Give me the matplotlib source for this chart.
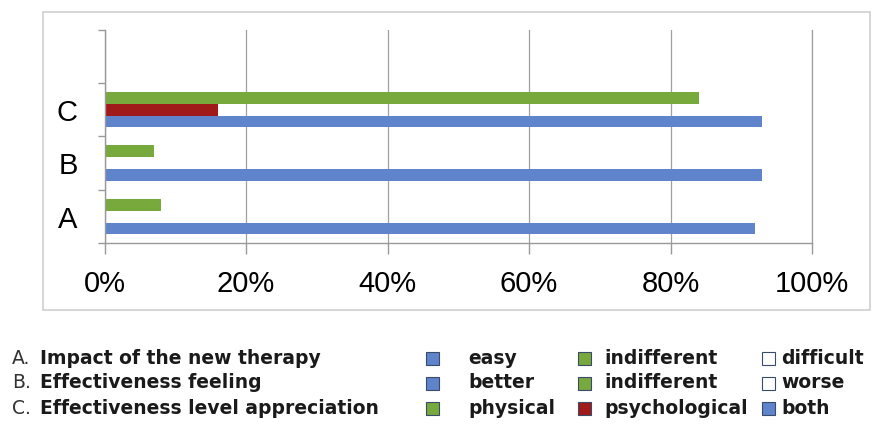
import matplotlib.pyplot as plt
from matplotlib.patches import Rectangle

plt.rcParams['font.family'] = ['Liberation Sans', 'DejaVu Sans']

categories = ['A', 'B', 'C']
# three bar positions per category (bottom, middle, top)
bottom_vals = [92, 93, 93]
middle_vals = [0, 0, 16]
top_vals = [8, 7, 84]
x_ticks = [0, 20, 40, 60, 80, 100]
x_labels = ['0%', '20%', '40%', '60%', '80%', '100%']

blue = '#5f84cc'
green = '#78a93c'
red = '#a11a1a'
bottom_colors = [blue, blue, blue]
middle_colors = ['white', 'white', red]
top_colors = [green, green, green]

desc = ['Impact of the new therapy', 'Effectiveness feeling',
        'Effectiveness level appreciation']
legend_rows = [
    [('easy', blue), ('indifferent', green), ('difficult', 'white')],
    [('better', blue), ('indifferent', green), ('worse', 'white')],
    [('physical', green), ('psychological', red), ('both', blue)],
]

fig = plt.figure(figsize=(8.83, 4.24), dpi=100)

# outer frame
fig.patches.append(Rectangle((43 / 883, 1 - 310 / 424), 827 / 883, 298 / 424,
                             transform=fig.transFigure, fill=False,
                             edgecolor='#cfcfcf', linewidth=1.2))

ax = fig.add_axes([104.6 / 883, 1 - 243.3 / 424, 707.4 / 883, 213.8 / 424])

y = list(range(len(categories)))
h = 0.222
ax.barh([v - h for v in y], bottom_vals, height=h, color=bottom_colors)
ax.barh(y, middle_vals, height=h, color=middle_colors)
ax.barh([v + h for v in y], top_vals, height=h, color=top_colors)

ax.set_xlim(0, 100)
ax.set_ylim(-0.5, 3.5)
ax.set_xticks(x_ticks)
ax.set_xticklabels(x_labels, fontsize=21)
ax.set_yticks([-0.5, 0.5, 1.5, 2.5, 3.5])
ax.set_yticklabels([])
ax.set_yticks(y, minor=True)
ax.set_yticklabels(categories, minor=True, fontsize=21)
ax.tick_params(axis='y', which='minor', length=0, pad=19.5)
ax.tick_params(axis='y', which='major', length=5, color='#999999', width=1)
ax.tick_params(axis='x', length=8, color='#999999', width=1, pad=11.5)

ax.grid(axis='x', color='#a0a0a0', linewidth=0.9)
ax.set_axisbelow(True)
ax.spines['top'].set_visible(False)
# right spine stands in for the 100% gridline
ax.spines['right'].set_color('#a0a0a0')
ax.spines['right'].set_linewidth(0.9)
for s in ['left', 'bottom']:
    ax.spines[s].set_color('#999999')
    ax.spines[s].set_linewidth(1)

# description legend below
leg_font = 'DejaVu Sans'
fs = 13.5
row_y = [358, 383, 408]
for i, d in enumerate(desc):
    yy = 1 - row_y[i] / 424
    fig.text(12 / 883, yy, categories[i] + '.', fontsize=fs,
             family=leg_font, va='center', ha='left', color='#333333')
    fig.text(40 / 883, yy, d, fontsize=fs, fontweight='bold',
             family=leg_font, va='center', ha='left', color='#1a1a1a')

sq_x = [426, 578, 762]
txt_x = [468, 604, 781]
for i, row in enumerate(legend_rows):
    yy = 1 - row_y[i] / 424
    for j, (lab, col) in enumerate(row):
        fig.patches.append(Rectangle((sq_x[j] / 883, yy - 6.5 / 424), 13 / 883, 13 / 424,
                                     transform=fig.transFigure, facecolor=col,
                                     edgecolor='#3a4a6a', linewidth=0.8))
        fig.text(txt_x[j] / 883, yy, lab, fontsize=fs, fontweight='bold',
                 family=leg_font, va='center', ha='left', color='#1a1a1a')

plt.savefig('out.png', dpi=100)
